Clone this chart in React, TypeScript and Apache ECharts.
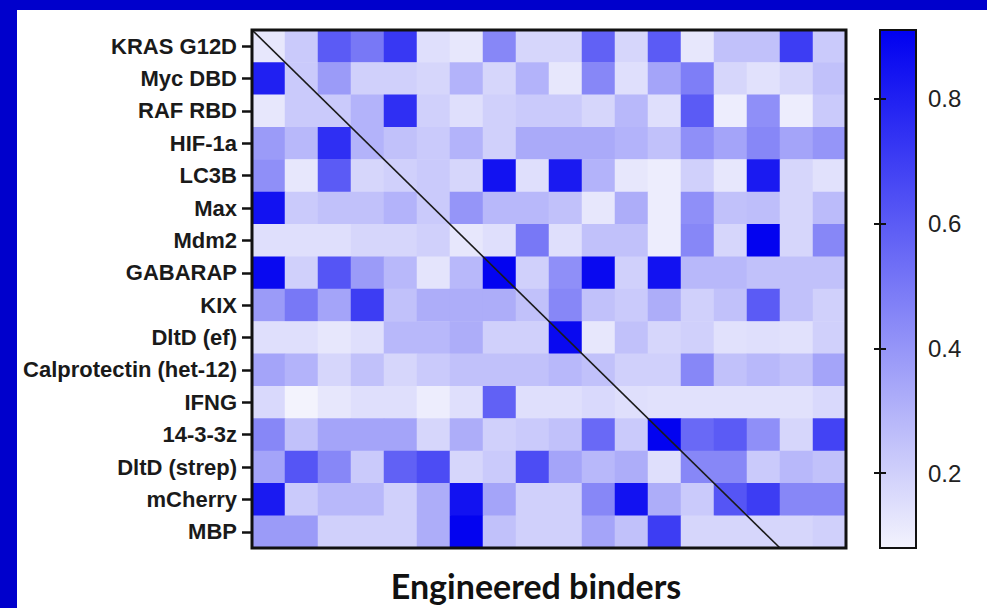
import React, { useEffect, useRef } from "react";
import * as echarts from "echarts";

// Row categories (targets), top to bottom
const targets = [
  "KRAS G12D",
  "Myc DBD",
  "RAF RBD",
  "HIF-1a",
  "LC3B",
  "Max",
  "Mdm2",
  "GABARAP",
  "KIX",
  "DltD (ef)",
  "Calprotectin (het-12)",
  "IFNG",
  "14-3-3z",
  "DltD (strep)",
  "mCherry",
  "MBP",
];

// Column categories (engineered binders, unlabelled in the figure)
const binders = [
  "B1", "B2", "B3", "B4", "B5", "B6", "B7", "B8", "B9",
  "B10", "B11", "B12", "B13", "B14", "B15", "B16", "B17", "B18",
];

// Cell values per target row (left to right across binders)
const krasG12D = [0.12, 0.22, 0.6, 0.5, 0.72, 0.15, 0.12, 0.45, 0.18, 0.18, 0.58, 0.18, 0.6, 0.12, 0.25, 0.25, 0.7, 0.22];
const mycDBD = [0.8, 0.22, 0.38, 0.2, 0.2, 0.18, 0.3, 0.18, 0.3, 0.12, 0.45, 0.15, 0.35, 0.48, 0.18, 0.14, 0.18, 0.25];
const rafRBD = [0.12, 0.22, 0.22, 0.3, 0.75, 0.2, 0.15, 0.2, 0.22, 0.22, 0.18, 0.28, 0.15, 0.6, 0.1, 0.42, 0.1, 0.22];
const hif1a = [0.38, 0.28, 0.75, 0.3, 0.25, 0.22, 0.3, 0.2, 0.33, 0.33, 0.33, 0.3, 0.25, 0.42, 0.35, 0.45, 0.35, 0.4];
const lc3b = [0.42, 0.12, 0.6, 0.18, 0.2, 0.22, 0.18, 0.85, 0.15, 0.82, 0.3, 0.12, 0.1, 0.2, 0.12, 0.82, 0.18, 0.14];
const max = [0.85, 0.22, 0.25, 0.25, 0.3, 0.22, 0.4, 0.28, 0.28, 0.25, 0.12, 0.32, 0.1, 0.42, 0.25, 0.26, 0.18, 0.27];
const mdm2 = [0.15, 0.15, 0.15, 0.18, 0.18, 0.2, 0.12, 0.15, 0.5, 0.15, 0.25, 0.25, 0.1, 0.45, 0.18, 0.9, 0.18, 0.45];
const gabarap = [0.88, 0.2, 0.62, 0.38, 0.28, 0.13, 0.28, 0.9, 0.2, 0.42, 0.88, 0.2, 0.85, 0.28, 0.28, 0.25, 0.25, 0.25];
const kix = [0.38, 0.5, 0.35, 0.7, 0.25, 0.32, 0.32, 0.32, 0.25, 0.45, 0.25, 0.22, 0.32, 0.2, 0.25, 0.6, 0.25, 0.2];
const dltdEf = [0.15, 0.15, 0.12, 0.15, 0.28, 0.28, 0.32, 0.2, 0.2, 0.88, 0.12, 0.25, 0.18, 0.2, 0.14, 0.15, 0.14, 0.2];
const calprotectin = [0.35, 0.3, 0.18, 0.25, 0.18, 0.22, 0.25, 0.25, 0.25, 0.28, 0.25, 0.2, 0.2, 0.45, 0.25, 0.28, 0.25, 0.35];
const ifng = [0.17, 0.08, 0.12, 0.15, 0.15, 0.1, 0.15, 0.58, 0.15, 0.15, 0.17, 0.15, 0.14, 0.14, 0.14, 0.14, 0.14, 0.17];
const p1433z = [0.45, 0.25, 0.35, 0.35, 0.35, 0.18, 0.32, 0.2, 0.22, 0.25, 0.55, 0.22, 0.9, 0.55, 0.6, 0.42, 0.18, 0.68];
const dltdStrep = [0.35, 0.62, 0.45, 0.22, 0.58, 0.65, 0.18, 0.22, 0.65, 0.35, 0.28, 0.32, 0.15, 0.45, 0.45, 0.22, 0.28, 0.25];
const mCherry = [0.82, 0.22, 0.28, 0.28, 0.2, 0.32, 0.85, 0.35, 0.2, 0.2, 0.45, 0.85, 0.32, 0.22, 0.62, 0.7, 0.45, 0.45];
const mbp = [0.38, 0.38, 0.2, 0.2, 0.2, 0.32, 0.9, 0.25, 0.2, 0.2, 0.35, 0.25, 0.7, 0.18, 0.18, 0.18, 0.18, 0.2];

const rows = [
  krasG12D, mycDBD, rafRBD, hif1a, lc3b, max, mdm2, gabarap,
  kix, dltdEf, calprotectin, ifng, p1433z, dltdStrep, mCherry, mbp,
];

// Colour scale range and colour-bar tick labels
const scaleMin = 0.08;
const scaleMax = 0.91;
const colorbarTicks = [0.2, 0.4, 0.6, 0.8];

// Diagonal reference line (corner of the square 16x16 block)
const diagonal = [
  [0, 0],
  [16, 16],
];

const LOW = "#f3f3fd";
const HIGH = "#0000f0";
const BLUE = "#0000cc";

export default function App() {
  const ref = useRef<HTMLDivElement>(null);

  useEffect(() => {
    if (!ref.current) return;
    const chart = echarts.init(ref.current, null, { renderer: "svg" });

    const data: [number, number, number][] = [];
    rows.forEach((row, y) => row.forEach((v, x) => data.push([x, y, v])));

    const gridL = 252, gridT = 30, gridW = 594, gridH = 518;

    const tickStyle = { color: "#111", width: 2 };

    const option: any = {
      animation: false,
      backgroundColor: "#ffffff",
      grid: [
        { left: gridL, top: gridT, width: gridW, height: gridH, outerBoundsMode: "none", containLabel: false },
        {
          left: 880, top: gridT, width: 36, height: gridH,
          outerBoundsMode: "none", containLabel: false,
          show: true,
          borderColor: "#111",
          borderWidth: 2,
          backgroundColor: new echarts.graphic.LinearGradient(0, 0, 0, 1, [
            { offset: 0, color: HIGH },
            { offset: 1, color: LOW },
          ]),
        },
      ],
      xAxis: [
        {
          type: "category",
          gridIndex: 0,
          data: binders,
          position: "bottom",
          axisLine: { show: false },
          axisTick: {
            show: true,
            alignWithLabel: true,
            interval: 0,
            length: 11,
            lineStyle: { color: "#111", width: 2.5 },
          },
          axisLabel: { show: false, interval: 0 },
          splitLine: { show: false },
          name: "Engineered binders",
          nameLocation: "middle",
          nameGap: 20,
          nameTextStyle: {
            fontFamily: "Lato",
            fontWeight: "bold",
            fontSize: 34,
            color: "#111",
            padding: [0, 26, 0, 0],
          },
        },
        { type: "value", gridIndex: 1, show: false, min: 0, max: 1 },
        { type: "value", gridIndex: 0, show: false, min: 0, max: binders.length },
      ],
      yAxis: [
        {
          type: "category",
          gridIndex: 0,
          data: targets,
          inverse: true,
          axisLine: { show: false },
          axisTick: {
            show: true,
            alignWithLabel: true,
            interval: 0,
            length: 10,
            lineStyle: { color: "#111", width: 2.5 },
          },
          axisLabel: {
            interval: 0,
            margin: 15,
            fontFamily: "Liberation Sans",
            fontWeight: "bold",
            fontSize: 22,
            color: "#1a1a1a",
          },
          splitLine: { show: false },
        },
        {
          type: "value",
          gridIndex: 1,
          min: scaleMin,
          max: scaleMax,
          position: "right",
          axisLine: { show: false },
          splitLine: { show: false },
          axisTick: {
            show: true,
            inside: true,
            length: 6,
            customValues: colorbarTicks,
            lineStyle: tickStyle,
          },
          axisLabel: {
            customValues: colorbarTicks,
            formatter: (v: number) => v.toFixed(1),
            fontFamily: "Liberation Sans",
            fontSize: 24,
            color: "#222",
            margin: 12,
          },
        },
        {
          type: "value",
          gridIndex: 1,
          min: scaleMin,
          max: scaleMax,
          position: "left",
          axisLine: { show: false },
          splitLine: { show: false },
          axisLabel: { show: false },
          axisTick: {
            show: true,
            inside: true,
            length: 6,
            customValues: colorbarTicks,
            lineStyle: tickStyle,
          },
        },
        { type: "value", gridIndex: 0, show: false, min: 0, max: targets.length, inverse: true },
      ],
      visualMap: {
        type: "continuous",
        show: false,
        min: scaleMin,
        max: scaleMax,
        dimension: 2,
        seriesIndex: 0,
        inRange: { color: [LOW, HIGH] },
      },
      series: [
        {
          type: "heatmap",
          xAxisIndex: 0,
          yAxisIndex: 0,
          data,
          itemStyle: { borderWidth: 0 },
          emphasis: { disabled: true },
          silent: true,
        },
        {
          type: "line",
          xAxisIndex: 2,
          yAxisIndex: 3,
          data: diagonal,
          symbol: "none",
          silent: true,
          z: 5,
          lineStyle: { color: "#1a1a1a", width: 1.6 },
        },
        {
          type: "scatter",
          xAxisIndex: 1,
          yAxisIndex: 1,
          data: [],
        },
      ],
      graphic: [
        { type: "rect", shape: { x: 0, y: 0, width: 987, height: 10 }, style: { fill: BLUE }, z: 0 },
        { type: "rect", shape: { x: 0, y: 0, width: 17, height: 608 }, style: { fill: BLUE }, z: 0 },
        {
          type: "rect",
          shape: { x: gridL, y: gridT, width: gridW, height: gridH },
          style: { fill: "none", stroke: "#111", lineWidth: 3 },
          z: 100,
          silent: true,
        },
      ],
    };

    chart.setOption(option);
    return () => chart.dispose();
  }, []);

  return (
    <div
      ref={ref}
      style={{ position: "fixed", left: 0, top: 0, width: 987, height: 608 }}
    />
  );
}
